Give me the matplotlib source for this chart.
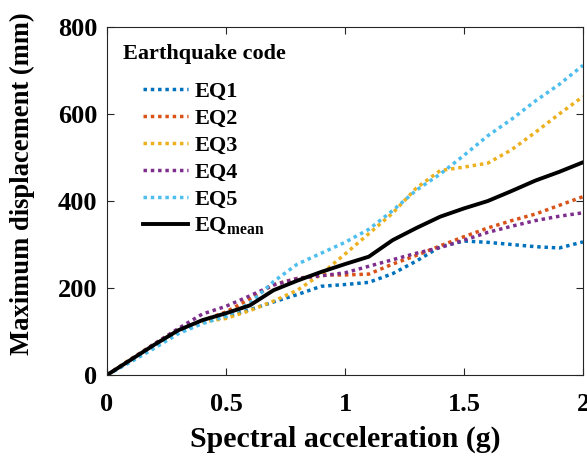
import matplotlib
matplotlib.use('Agg')
import matplotlib.pyplot as plt
import numpy as np

plt.rcParams['font.family'] = 'Liberation Serif'
plt.rcParams['font.weight'] = 'bold'
plt.rcParams['mathtext.fontset'] = 'custom'
plt.rcParams['mathtext.rm'] = 'Liberation Serif:bold'
plt.rcParams['mathtext.bf'] = 'Liberation Serif:bold'

# spectral acceleration steps (g)
sa = [0.0, 0.1, 0.2, 0.3, 0.4, 0.5, 0.6, 0.7, 0.8, 0.9, 1.0,
      1.1, 1.2, 1.3, 1.4, 1.5, 1.6, 1.7, 1.8, 1.9, 2.0]

# maximum displacement (mm) per record
eq1 = [0, 35, 68, 100, 122, 133, 150, 168, 185, 204, 208,
       213, 233, 262, 295, 308, 305, 300, 295, 292, 306]
eq2 = [0, 36, 70, 103, 125, 145, 175, 208, 222, 230, 230,
       232, 255, 275, 297, 318, 338, 355, 370, 390, 410]
eq3 = [0, 37, 72, 105, 122, 130, 148, 170, 195, 232, 278,
       325, 372, 430, 470, 478, 487, 518, 558, 600, 640]
eq4 = [0, 36, 72, 107, 140, 158, 182, 207, 222, 228, 235,
       250, 265, 280, 293, 310, 328, 342, 355, 365, 373]
eq5 = [0, 30, 62, 95, 118, 135, 165, 215, 255, 280, 305,
       335, 378, 425, 462, 505, 550, 588, 630, 668, 712]
eq_mean = [0, 35, 70, 103, 126, 142, 160, 195, 217, 237, 255,
           272, 310, 338, 364, 383, 400, 423, 447, 467, 489]

series = [eq1, eq2, eq3, eq4, eq5]
names = ['EQ1', 'EQ2', 'EQ3', 'EQ4', 'EQ5']
colors = ['#0072BD', '#D95319', '#EDB120', '#7E2F8E', '#4DBEEE']

fig = plt.figure(figsize=(5.87, 4.57), dpi=100)
ax = fig.add_axes([0.1823, 0.1794, 0.8109, 0.7615])

for vals, name, c in zip(series, names, colors):
    ax.plot(sa, vals, color=c, lw=2.5, dashes=(1.0, 1.1), label=name)
ax.plot(sa, eq_mean, color='black', lw=2.8, label=r'EQ$_{\mathrm{mean}}$')

ax.set_xlim(0, 2)
ax.set_ylim(0, 800)
ax.set_xticks([0, 0.5, 1, 1.5, 2])
ax.set_xticklabels(['0', '0.5', '1', '1.5', '2'])
ax.set_yticks([0, 200, 400, 600, 800])
ax.tick_params(direction='in', top=True, right=True, length=5, width=0.8,
               labelsize=19, colors='#262626', labelcolor='black')
ax.tick_params(axis='x', pad=13)
ax.tick_params(axis='y', pad=7)
for s in ax.spines.values():
    s.set_color('#262626')
    s.set_linewidth(0.8)

ax.set_xlabel('Spectral acceleration (g)', fontsize=21.5, fontweight='bold', labelpad=7)
ax.set_ylabel('Maximum displacement (mm)', fontsize=19.2, fontweight='bold')
ax.yaxis.set_label_coords(-0.151, 0.549)

leg = ax.legend(title='Earthquake code', loc='upper left', bbox_to_anchor=(0.0, 0.995),
                frameon=False, fontsize=16, title_fontsize=16,
                handlelength=2.0, handletextpad=0.3, labelspacing=0.29,
                borderaxespad=0.3)
leg.get_title().set_fontweight('bold')
# extra gap between the legend title and the entries
leg._legend_box.sep = 12

fig.savefig('out.png', dpi=100)
